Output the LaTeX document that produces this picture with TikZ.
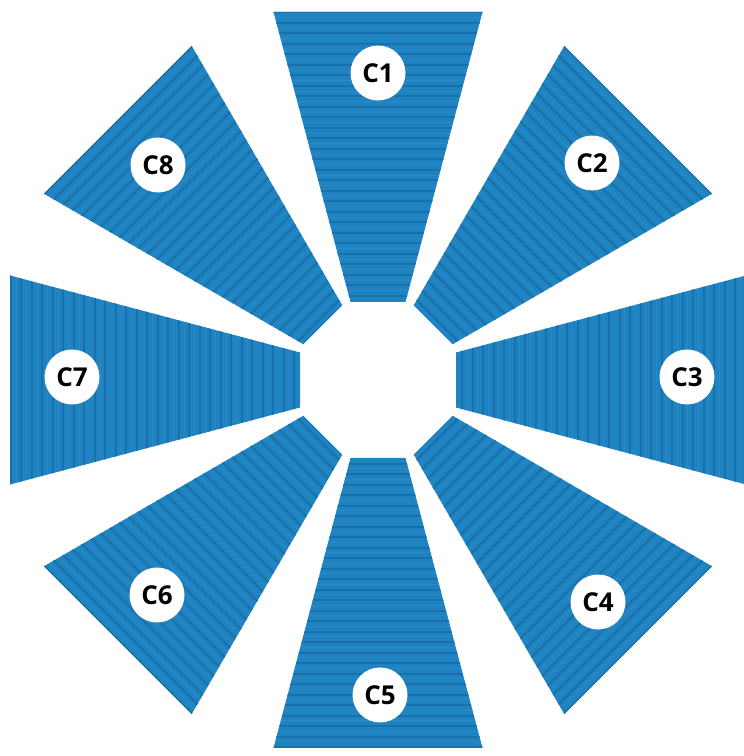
\documentclass[tikz,border=0pt]{standalone}
\usepackage{fontspec}
\setmainfont{Open Sans}
\definecolor{cblue}{HTML}{1F83C1}
\definecolor{cdark}{HTML}{1A71A9}
\definecolor{clight}{HTML}{2A8DCB}
\begin{document}
\begin{tikzpicture}[x=1pt,y=1pt,
  lbl/.style={circle,fill=white,minimum size=55pt,inner sep=0pt,
    font=\fontsize{26}{26}\selectfont\bfseries},
  piece/.style={fill=cblue}]
\useasboundingbox (0,0) rectangle (744,756);
\foreach \a in {0,-45,...,-315} {
  \begin{scope}[shift={(378,376)},rotate=\a]
    \path[piece] (-27.5,78) -- (27.5,78) -- (104.5,368) -- (-104.5,368) -- cycle;
    \begin{scope}
      \clip (-27.5,78) -- (27.5,78) -- (104.5,368) -- (-104.5,368) -- cycle;
      \foreach \y in {84,94.5,...,374} {
        \draw[cdark,line width=2pt] (-110,\y) -- (110,\y);
        \draw[clight,line width=1pt,opacity=0.7] (-110,\y+5) -- (110,\y+5);
      }
    \end{scope}
  \end{scope}
}
\node[lbl] (c1) at (378,683) {C1};
\node[lbl] (c2) at (592,593) {C2};
\node[lbl] (c3) at (687,379) {C3};
\node[lbl] (c4) at (598,154) {C4};
\node[lbl] (c5) at (380,61) {C5};
\node[lbl] (c6) at (157,161) {C6};
\node[lbl] (c7) at (72,379) {C7};
\node[lbl] (c8) at (158,591) {C8};
\end{tikzpicture}
\end{document}
